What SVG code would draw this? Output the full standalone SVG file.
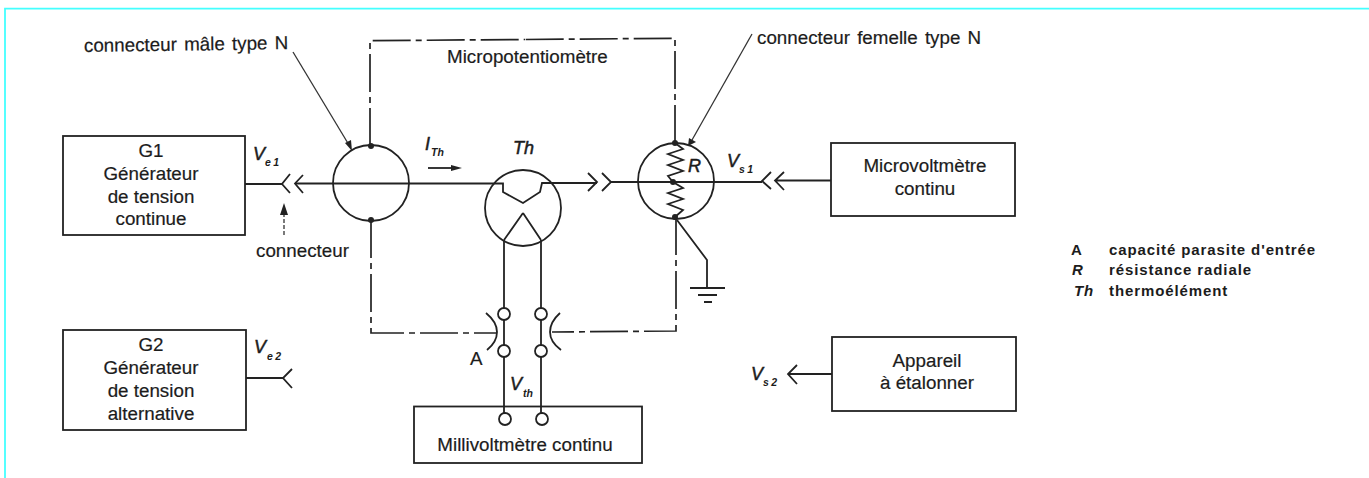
<svg xmlns="http://www.w3.org/2000/svg" width="1369" height="478" viewBox="0 0 1369 478">
<style>
text{font-family:"Liberation Sans",Arial,sans-serif;fill:#1c1c1c}
.c{text-anchor:middle;font-size:18.8px;stroke:#1c1c1c;stroke-width:.2}
.l{font-size:18.8px;word-spacing:2px;stroke:#1c1c1c;stroke-width:.2}
.i{font-style:italic;font-size:18px;stroke:#1c1c1c;stroke-width:.5}
.s{font-style:italic;font-size:10.500px;font-weight:bold;letter-spacing:2.500px}
.n{font-style:italic;font-size:10.500px;font-weight:bold}
.k{font-size:15px;font-weight:bold;letter-spacing:.9px}
.box{fill:#fff;stroke:#222;stroke-width:1.800}
.w{fill:none;stroke:#222;stroke-width:1.800}
.t{fill:none;stroke:#333;stroke-width:1.300}
.d{fill:none;stroke:#222;stroke-width:1.700;stroke-dasharray:38 5 6 5}
.o{fill:#fff;stroke:#222;stroke-width:1.800}
.dot{fill:#222}
</style>
<rect width="1369" height="478" fill="#fff"/>
<path d="M5 478V8.700H1369" fill="none" stroke="#44ffff" stroke-width="1.800"/>
<g id="connectors">
<path class="d" d="M370 146V40.700L525 39.500"/>
<path class="d" d="M675 143V38.300L525 39.500"/>
<path class="d" d="M371 220V333H497"/>
<path class="d" d="M676 217V331L552 332"/>
<path class="w" d="M245 184H282M290 174L282 184L290 193M303 175L295 183.500L303 193"/>
<path class="w" d="M295 183.500H503V192L523 203L540 192L542 183H597M588 173L597 182L588 191M602 173L611 182L602 191M611 182H762"/>
<path class="w" d="M771 172L762 181L771 189M784 172L775 180.500L784 190M775 180.500H832"/>
<path class="w" d="M246 378H283M292 369L283 378L292 388"/>
<path class="w" d="M832 374H788M797 365L788 374L797 384"/>
<path class="w" d="M504 240V308M504 320V345M504 357V413M541 240V308M541 320V345M541 357V413"/>
<path class="t" d="M293 52L349 145"/>
<path class="t" d="M752 34L692 140"/>
<path class="dot" d="M345 143L351 140L352 151ZM688 146L689 138L696 142Z"/>
<path class="t" d="M284 235V212" stroke-dasharray="4 2"/>
<path class="dot" d="M280 215L284 203L288 215Z"/>
<path class="w" d="M428 168H452"/>
<path class="dot" d="M451 165L462 168L451 171Z"/>
<path class="w" d="M677 220L707 260V288M690 288H725M698 295H717M704 302H712"/>
<path class="w" d="M486 313Q497 322 497 332Q497 342 487 350"/>
<path class="w" d="M560 313Q550 322 550 332Q550 342 561 350"/>
</g>
<g id="g1"><rect class="box" x="63" y="136" width="182" height="99"/><text class="c" x="151" y="157">G1</text><text class="c" x="151" y="180">Générateur</text><text class="c" x="151" y="203">de tension</text><text class="c" x="151" y="225">continue</text></g>
<g id="g2"><rect class="box" x="63" y="330" width="183" height="100"/><text class="c" x="151" y="351">G2</text><text class="c" x="151" y="374">Générateur</text><text class="c" x="151" y="397">de tension</text><text class="c" x="151" y="420">alternative</text></g>
<g id="ve1"><text class="i" x="253" y="160">V</text><text class="s" x="265" y="166">e1</text></g>
<g id="ve2"><text class="i" x="254" y="353">V</text><text class="s" x="267" y="360">e2</text></g>
<g id="male-connector"><circle class="w" cx="371" cy="183" r="38"/><circle class="dot" cx="371" cy="146" r="3"/><circle class="dot" cx="371" cy="220" r="3"/></g>
<g id="thermoelement"><circle class="w" cx="523" cy="208" r="38"/><path class="w" d="M523 213L504 240M523 213L541 240"/><text class="i" x="513" y="154">Th</text></g>
<g id="female-connector"><circle class="w" cx="676" cy="181" r="38"/><path class="w" d="M675 143L683 149L668 154L683 160L668 165L683 171L668 176L673 182L683 188L668 193L683 199L668 204L683 210L675 217"/><circle class="dot" cx="675" cy="143" r="3"/><circle class="dot" cx="673" cy="182" r="3"/><circle class="dot" cx="675" cy="217" r="3"/><text class="i" x="688" y="172">R</text></g>
<g id="labels">
<text class="l" x="84" y="52" transform="rotate(-.8 84 52)">connecteur mâle type N</text>
<text class="l" x="757" y="44">connecteur femelle type N</text>
<text class="l" x="447" y="63">Micropotentiomètre</text>
<text class="l" x="256" y="257">connecteur</text>
<text class="i" x="425" y="150">I</text><text class="n" x="431" y="156">Th</text>
<text class="i" x="727" y="167">V</text><text class="s" x="739" y="173">s1</text>
<text class="i" x="751" y="380">V</text><text class="s" x="763" y="386">s2</text>
<text class="l" x="470" y="365">A</text>
<text class="i" x="510" y="390">V</text><text class="n" x="523" y="397">th</text>
</g>
<g id="contacts"><circle class="o" cx="504" cy="314" r="6"/><circle class="o" cx="504" cy="351" r="6"/><circle class="o" cx="541" cy="314" r="6"/><circle class="o" cx="541" cy="351" r="6"/></g>
<g id="millivoltmeter"><rect class="box" x="414" y="406.500" width="228" height="56.500"/><path class="w" d="M504 406V413M541 406V413"/><circle class="o" cx="505" cy="419" r="6"/><circle class="o" cx="542" cy="419" r="6"/><text class="c" x="525" y="451">Millivoltmètre continu</text></g>
<g id="microvoltmeter"><rect class="box" x="831" y="143" width="184" height="73"/><text class="c" x="925" y="172">Microvoltmètre</text><text class="c" x="925" y="195">continu</text></g>
<g id="appareil"><rect class="box" x="832" y="337" width="184" height="74"/><text class="c" x="927" y="367">Appareil</text><text class="c" x="927" y="389">à étalonner</text></g>
<g id="legend">
<text class="k" x="1071" y="255">A</text><text class="k" x="1109" y="255">capacité parasite d'entrée</text>
<text class="k" x="1072" y="275" font-style="italic">R</text><text class="k" x="1109" y="275">résistance radiale</text>
<text class="k" x="1074" y="296" font-style="italic">Th</text><text class="k" x="1109" y="296">thermoélément</text>
</g>
</svg>
